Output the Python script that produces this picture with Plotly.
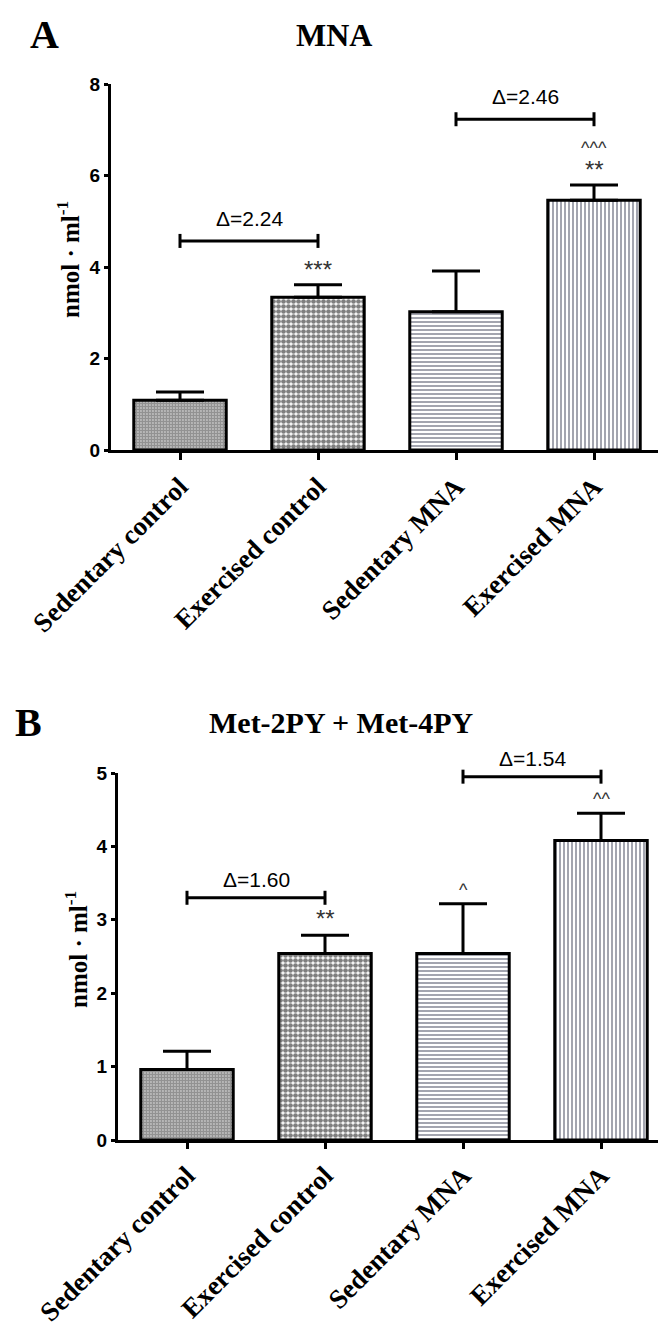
import plotly.graph_objects as go

# ---------------- data ----------------
categories = ["Sedentary control", "Exercised control", "Sedentary MNA", "Exercised MNA"]

mna_mean = [1.09, 3.34, 3.02, 5.46]
mna_sem = [0.18, 0.27, 0.89, 0.33]
mna_stars = ["", "***", "", "**"]
mna_carets = ["", "", "", "^^^"]
mna_deltas = ["Δ=2.24", "Δ=2.46"]
mna_bracket_y = [4.57, 7.23]

met_mean = [0.96, 2.54, 2.54, 4.08]
met_sem = [0.25, 0.25, 0.68, 0.37]
met_stars = ["", "**", "", ""]
met_carets = ["", "", "^", "^^"]
met_deltas = ["Δ=1.60", "Δ=1.54"]
met_bracket_y = [3.30, 4.95]

bracket_pairs = [(0, 1), (2, 3)]

# ---------------- styles ----------------
pat_shapes = [".", ".", "-", "|"]
pat_fg = ["#262626", "#000000", "#474c60", "#474c60"]
pat_size = [3, 5, 4, 4]
pat_solid = [0.8, 0.7, 0.5, 0.5]

serif = "Liberation Serif"
sans = "Liberation Sans"

H = 1327.0
W = 666.0
dom_a = [1 - 442 / H, 1 - 76 / H]
dom_b = [1 - 1132 / H, 1 - 765 / H]
range_a = [0, 8]
range_b = [0, 5]

fig = go.Figure()


def to_paper(v, dom, rng):
    return dom[0] + (v - rng[0]) / (rng[1] - rng[0]) * (dom[1] - dom[0])


def add_panel(xa, mean, sem, mark_rows, deltas, bracket_y, delta_offset, dom, rng):
    xref = "x" if xa == 1 else f"x{xa}"
    yref = "y" if xa == 1 else f"y{xa}"
    fig.add_trace(go.Bar(
        x=categories, y=mean, width=0.67,
        marker=dict(color="white", line=dict(color="black", width=3),
                    pattern=dict(shape=pat_shapes, fgcolor=pat_fg, bgcolor="white",
                                 size=pat_size, solidity=pat_solid, fillmode="overlay")),
        error_y=dict(type="data", symmetric=False, array=sem, arrayminus=[0] * len(sem),
                     color="black", thickness=3, width=24),
        xaxis=xref, yaxis=yref, showlegend=False, hoverinfo="skip"))
    for (a, b), yv, txt in zip(bracket_pairs, bracket_y, deltas):
        fig.add_trace(go.Scatter(
            x=[categories[a], categories[b]], y=[yv, yv], mode="lines+markers",
            line=dict(color="black", width=3),
            marker=dict(symbol="line-ns", size=10, line=dict(color="black", width=3)),
            xaxis=xref, yaxis=yref, showlegend=False, cliponaxis=False, hoverinfo="skip"))
        fig.add_annotation(x=(a + b) / 2, y=to_paper(yv + delta_offset, dom, rng),
                           xref=xref, yref="paper", text=txt, xanchor="center", yanchor="middle",
                           showarrow=False, font=dict(family=sans, size=21, color="black"))
    for row, off, size in mark_rows:
        for i, m in enumerate(row):
            if m:
                top = mean[i] + sem[i] + off
                fig.add_annotation(x=i, y=to_paper(top, dom, rng), xref=xref, yref="paper",
                                   text=m, showarrow=False, xanchor="center", yanchor="middle",
                                   font=dict(family=sans, size=size, color="#333333"))


# Panel A
add_panel(1, mna_mean, mna_sem, [(mna_stars, 0.34, 24), (mna_carets, 0.82, 18)],
          mna_deltas, mna_bracket_y, 0.50, dom_a, range_a)
# Panel B
add_panel(2, met_mean, met_sem, [(met_stars, 0.23, 24), (met_carets, 0.19, 18)],
          met_deltas, met_bracket_y, 0.25, dom_b, range_b)

axis_common = dict(showline=True, linecolor="black", linewidth=3, ticks="outside",
                   tickcolor="black", tickwidth=3, showgrid=False, zeroline=False,
                   fixedrange=True, automargin=False)

xtickfont = dict(family=serif, size=27, color="black", weight="bold")
ytickfont = dict(family=sans, size=19, color="black", weight="bold")

fig.update_layout(
    width=666, height=1327,
    margin=dict(l=0, r=0, t=0, b=0, autoexpand=False),
    paper_bgcolor="white", plot_bgcolor="white",
    showlegend=False,
    xaxis=dict(domain=[103 / W, 655 / W], anchor="y", type="category", range=[-0.5, 3.5],
               ticklen=7, tickangle=-45, tickfont=xtickfont, **axis_common),
    yaxis=dict(domain=dom_a, anchor="x", range=range_a, dtick=2,
               ticklen=4, tickfont=ytickfont, **axis_common),
    xaxis2=dict(domain=[110 / W, 662 / W], anchor="y2", type="category", range=[-0.5, 3.5],
                ticklen=6, tickangle=-45, tickfont=xtickfont, **axis_common),
    yaxis2=dict(domain=dom_b, anchor="x2", range=range_b, dtick=1,
                ticklen=4, tickfont=ytickfont, **axis_common),
)


def paper_text(x, y, text, size, family=serif, angle=0):
    fig.add_annotation(x=x / W, y=1 - y / H, xref="paper", yref="paper", text=text,
                       xanchor="center", yanchor="middle", showarrow=False, textangle=angle,
                       font=dict(family=family, size=size, color="black", weight="bold"))


# titles, panel letters, axis titles
paper_text(36, 26, "A", 40)
paper_text(326, 27, "MNA", 32)
paper_text(21, 714, "B", 40)
paper_text(333, 714, "Met-2PY + Met-4PY", 30)
paper_text(60, 252, "nmol · ml<sup>-1</sup>", 25, angle=-90)
paper_text(68, 942, "nmol · ml<sup>-1</sup>", 25, angle=-90)

fig.write_html("out.html")
